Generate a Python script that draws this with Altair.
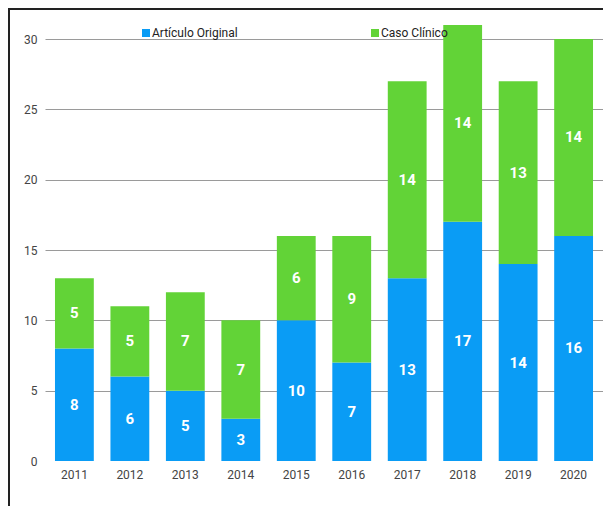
import altair as alt
import pandas as pd

years = ["2011", "2012", "2013", "2014", "2015", "2016", "2017", "2018", "2019", "2020"]
original = [8, 6, 5, 3, 10, 7, 13, 17, 14, 16]
clinico = [5, 5, 7, 7, 6, 9, 14, 14, 13, 14]
series = ["Artículo Original", "Caso Clínico"]
colors = ["#0A9CF5", "#62D337"]

rows = []
for i, y in enumerate(years):
    rows.append({"year": y, "serie": series[0], "value": original[i], "order": 0})
    rows.append({"year": y, "serie": series[1], "value": clinico[i], "order": 1})
df = pd.DataFrame(rows)

base = alt.Chart(df).transform_stack(
    stack="value", groupby=["year"], sort=[alt.SortField("order")], as_=["y0", "y1"]
).transform_calculate(mid="(datum.y0 + datum.y1) / 2")

x = alt.X("year:N", title=None, sort=years,
          scale=alt.Scale(paddingInner=0.3, paddingOuter=0.18),
          axis=alt.Axis(labelAngle=0, ticks=False, domain=False, labelColor="#444",
                        labelFont="Roboto", labelFontSize=12, labelPadding=8))

bars = base.mark_bar().encode(
    x=x,
    y=alt.Y("y0:Q", title=None,
            scale=alt.Scale(domain=[0, 30], nice=False),
            axis=alt.Axis(values=[0, 5, 10, 15, 20, 25, 30], ticks=False, domain=False,
                          labelColor="#444", labelFont="Roboto", labelFontSize=12,
                          labelPadding=8,
                          gridColor={"condition": {"test": "datum.value === 0", "value": "transparent"},
                                     "value": "#9a9a9a"},
                          gridWidth=1.2)),
    y2="y1:Q",
    color=alt.Color("serie:N", scale=alt.Scale(domain=series, range=colors),
                    sort=series,
                    legend=alt.Legend(title=None, orient="none", legendX=95, legendY=-12,
                                      direction="horizontal", symbolType="square",
                                      symbolSize=64, symbolStrokeWidth=0,
                                      columnPadding=131, labelOffset=0,
                                      labelFont="Roboto", labelFontSize=12,
                                      labelColor="#222")),
    order=alt.Order("order:Q"),
)

labels = base.mark_text(color="white", fontWeight="bold", font="Roboto", fontSize=15).encode(
    x=alt.X("year:N", sort=years),
    y=alt.Y("mid:Q"),
    text=alt.Text("value:Q"),
)

left_border = alt.Chart(df).mark_rule(stroke="#222", strokeWidth=2).encode(
    x=alt.value(-36), y=alt.value(-31), y2=alt.value(467)
)
top_border = alt.Chart(df).mark_rule(stroke="#222", strokeWidth=2).encode(
    x=alt.value(-37), x2=alt.value(560), y=alt.value(-30)
)

chart = alt.layer(bars, labels, left_border, top_border).properties(
    width=558, height=422,
    padding={"left": 37, "top": 31, "right": 0, "bottom": 45},
    autosize=alt.AutoSizeParams(type="none"),
).configure_view(stroke=None)

chart.save("out.html", embed_options={"renderer": "svg", "actions": False})
